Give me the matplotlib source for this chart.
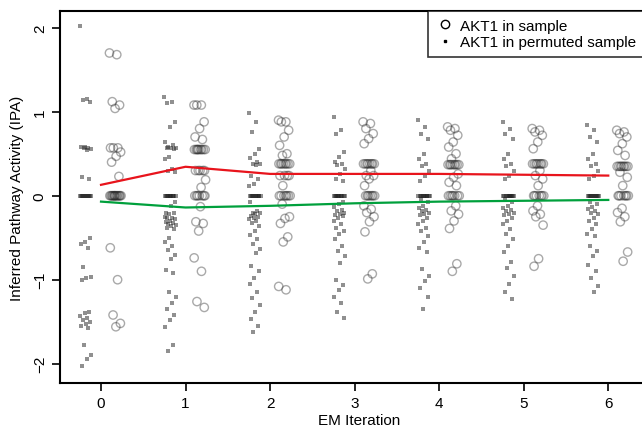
"""
AKT1 inferred pathway activity across EM iterations:
real sample vs permuted sample, with mean lines.
"""

import numpy as np
import matplotlib
matplotlib.use('Agg')
import matplotlib.pyplot as plt
from matplotlib.lines import Line2D

plt.rcParams['font.family'] = ['Liberation Sans', 'DejaVu Sans']
plt.rcParams['font.size'] = 11

# EM iterations on the x axis
iterations = [0, 1, 2, 3, 4, 5, 6]

# IPA values for AKT1 in the real sample (circles), one list per iteration
sample_0 = [1.70, 1.68, 1.12, 1.08, 1.04, 0.57, 0.57, 0.57, 0.52, 0.47, 0.40, 0.23] + [0.0] * 14 + \
           [-0.62, -1.00, -1.42, -1.52, -1.56]
sample_1 = [1.08, 1.08, 1.08, 0.88, 0.80, 0.70, 0.67] + [0.55] * 9 + [0.30] * 5 + [0.19, 0.10] + \
           [0.0] * 7 + [-0.13, -0.31, -0.33, -0.42, -0.74, -0.90, -1.26, -1.33]
sample_2 = [0.90, 0.88, 0.88, 0.78, 0.70, 0.60, 0.50, 0.48] + [0.38] * 8 + [0.24] * 4 + [0.12] + \
           [0.0] * 7 + [-0.10, -0.25, -0.27, -0.33, -0.49, -0.55, -1.08, -1.12]
sample_3 = [0.88, 0.86, 0.80, 0.74, 0.68, 0.62] + [0.38] * 8 + [0.30, 0.24, 0.24, 0.20, 0.12] + \
           [0.0] * 7 + [-0.12, -0.16, -0.20, -0.25, -0.31, -0.43, -0.93, -0.99]
sample_4 = [0.82, 0.80, 0.78, 0.72, 0.64, 0.58, 0.50, 0.44] + [0.37] * 8 + [0.26, 0.22, 0.16, 0.12] + \
           [0.0] * 7 + [-0.12, -0.18, -0.22, -0.30, -0.39, -0.81, -0.90]
sample_5 = [0.80, 0.78, 0.76, 0.72, 0.64, 0.56] + [0.38] * 8 + [0.30, 0.24, 0.20, 0.12] + \
           [0.0] * 7 + [-0.12, -0.18, -0.22, -0.25, -0.35, -0.75, -0.84]
sample_6 = [0.78, 0.76, 0.74, 0.70, 0.62, 0.54, 0.48] + [0.35] * 8 + [0.28, 0.22, 0.12] + \
           [0.0] * 7 + [-0.15, -0.20, -0.25, -0.31, -0.67, -0.78]

# IPA values for AKT1 in permuted samples (small dots)
perm_0 = [2.02, 1.15, 1.14, 1.12, 0.58, 0.58, 0.57, 0.57, 0.56, 0.55, 0.22, 0.20] + [0.0] * 12 + \
         [-0.50, -0.55, -0.58, -0.62, -0.85, -0.97, -0.98, -1.00, -1.38, -1.40, -1.43, -1.45,
          -1.48, -1.50, -1.53, -1.55, -1.58, -1.78, -1.90, -1.95, -2.03]
perm_1 = [1.18, 1.12, 1.10, 0.88, 0.82, 0.64, 0.60, 0.58, 0.57, 0.57, 0.57, 0.56, 0.46, 0.44,
          0.32, 0.30, 0.28] + [0.0] * 12 + \
         [-0.08, -0.12, -0.20, -0.21, -0.22, -0.25, -0.26, -0.27, -0.28, -0.30, -0.31, -0.32,
          -0.34, -0.35, -0.36, -0.38, -0.40, -0.50, -0.55, -0.60, -0.65, -0.70, -0.75, -0.88,
          -0.92, -1.15, -1.20, -1.28, -1.35, -1.42, -1.48, -1.56, -1.78, -1.85]
perm_2 = [0.98, 0.88, 0.76, 0.56, 0.50, 0.45, 0.40, 0.38, 0.38, 0.37, 0.24, 0.20, 0.14, 0.12] + \
         [0.0] * 12 + \
         [-0.07, -0.18, -0.20, -0.21, -0.22, -0.24, -0.25, -0.26, -0.28, -0.30, -0.33, -0.36,
          -0.42, -0.47, -0.52, -0.58, -0.63, -0.68, -0.84, -0.90, -0.98, -1.05, -1.15, -1.22,
          -1.30, -1.38, -1.47, -1.55, -1.62]
perm_3 = [0.94, 0.78, 0.74, 0.52, 0.46, 0.40, 0.38, 0.37, 0.32, 0.26, 0.20, 0.17] + [0.0] * 12 + \
         [-0.07, -0.10, -0.14, -0.17, -0.18, -0.20, -0.22, -0.23, -0.24, -0.26, -0.30, -0.34,
          -0.38, -0.42, -0.46, -0.51, -0.60, -0.66, -0.72, -0.80, -1.00, -1.06, -1.12, -1.20,
          -1.28, -1.38, -1.46]
perm_4 = [0.90, 0.82, 0.74, 0.68, 0.50, 0.44, 0.38, 0.36, 0.30, 0.24, 0.18] + [0.0] * 12 + \
         [-0.04, -0.08, -0.12, -0.15, -0.17, -0.18, -0.20, -0.22, -0.23, -0.26, -0.30, -0.34,
          -0.38, -0.42, -0.48, -0.55, -0.62, -0.67, -0.87, -0.95, -1.02, -1.10, -1.20, -1.35]
perm_5 = [0.88, 0.80, 0.74, 0.68, 0.50, 0.44, 0.38, 0.36, 0.30, 0.24, 0.20] + [0.0] * 12 + \
         [-0.04, -0.08, -0.12, -0.15, -0.17, -0.18, -0.20, -0.22, -0.23, -0.26, -0.30, -0.34,
          -0.40, -0.46, -0.52, -0.60, -0.67, -0.79, -0.86, -0.95, -1.05, -1.15, -1.23]
perm_6 = [0.84, 0.78, 0.70, 0.64, 0.50, 0.44, 0.38, 0.35, 0.30, 0.24, 0.20] + [0.0] * 12 + \
         [-0.07, -0.10, -0.14, -0.16, -0.18, -0.20, -0.22, -0.26, -0.30, -0.34, -0.40, -0.45,
          -0.48, -0.60, -0.66, -0.72, -0.83, -0.90, -0.98, -1.08, -1.15]

sample_values = [sample_0, sample_1, sample_2, sample_3, sample_4, sample_5, sample_6]
perm_values = [perm_0, perm_1, perm_2, perm_3, perm_4, perm_5, perm_6]

# Mean IPA lines
sample_mean = [0.13, 0.345, 0.26, 0.26, 0.26, 0.25, 0.24]
perm_mean = [-0.07, -0.14, -0.12, -0.09, -0.07, -0.06, -0.05]


def jitter(n, width):
    """Deterministic spread of n points over +-width (golden-ratio sequence)"""
    return ((np.arange(n) * 0.618034) % 1.0 - 0.5) * 2 * width


fig = plt.figure(figsize=(6.42, 4.31), dpi=100)
# axes run past the right edge of the figure, as in the original
ax = fig.add_axes([60 / 642, 47 / 431, 599 / 642, 372 / 431])

for it, vals in zip(iterations, perm_values):
    x = it - 0.18 + jitter(len(vals), 0.07)
    ax.scatter(x, vals, marker='s', s=5, color='#222222', alpha=0.5, linewidths=0)

for it, vals in zip(iterations, sample_values):
    x = it + 0.17 + jitter(len(vals), 0.07)
    ax.scatter(x, vals, marker='o', s=36, facecolors='none', edgecolors='#2a2a2a',
               alpha=0.4, linewidths=1.0)

ax.plot(iterations, sample_mean, color='#e8141c', lw=1.6)
ax.plot(iterations, perm_mean, color='#00a03c', lw=1.6)

ax.set_xlim(-0.485, 6.6)
ax.set_ylim(-2.23, 2.2)
ax.set_xticks(iterations)
ax.set_yticks([-2, -1, 0, 1, 2])
ax.tick_params(axis='both', direction='out', length=6, width=1.2, colors='black')
for lbl in ax.get_yticklabels():
    lbl.set_rotation(90)
    lbl.set_va('center')
for sp in ax.spines.values():
    sp.set_linewidth(1.5)

ax.set_xlabel('EM Iteration', labelpad=2)
ax.set_ylabel('Inferred Pathway Activity (IPA)', labelpad=6)

handles = [
    Line2D([], [], marker='o', ls='none', markerfacecolor='none', markeredgecolor='black',
           markersize=6, markeredgewidth=1.0),
    Line2D([], [], marker='s', ls='none', color='black', markersize=2),
]
leg = ax.legend(handles, ['AKT1 in sample', 'AKT1 in permuted sample'], loc='upper left',
                bbox_to_anchor=(0.615, 1.0), frameon=True, fancybox=False, handletextpad=0.4,
                handlelength=1.2, borderpad=0.5, labelspacing=0.15, borderaxespad=0)
leg.get_frame().set_edgecolor('black')
leg.get_frame().set_linewidth(1.2)

fig.savefig('out.png', dpi=100)
